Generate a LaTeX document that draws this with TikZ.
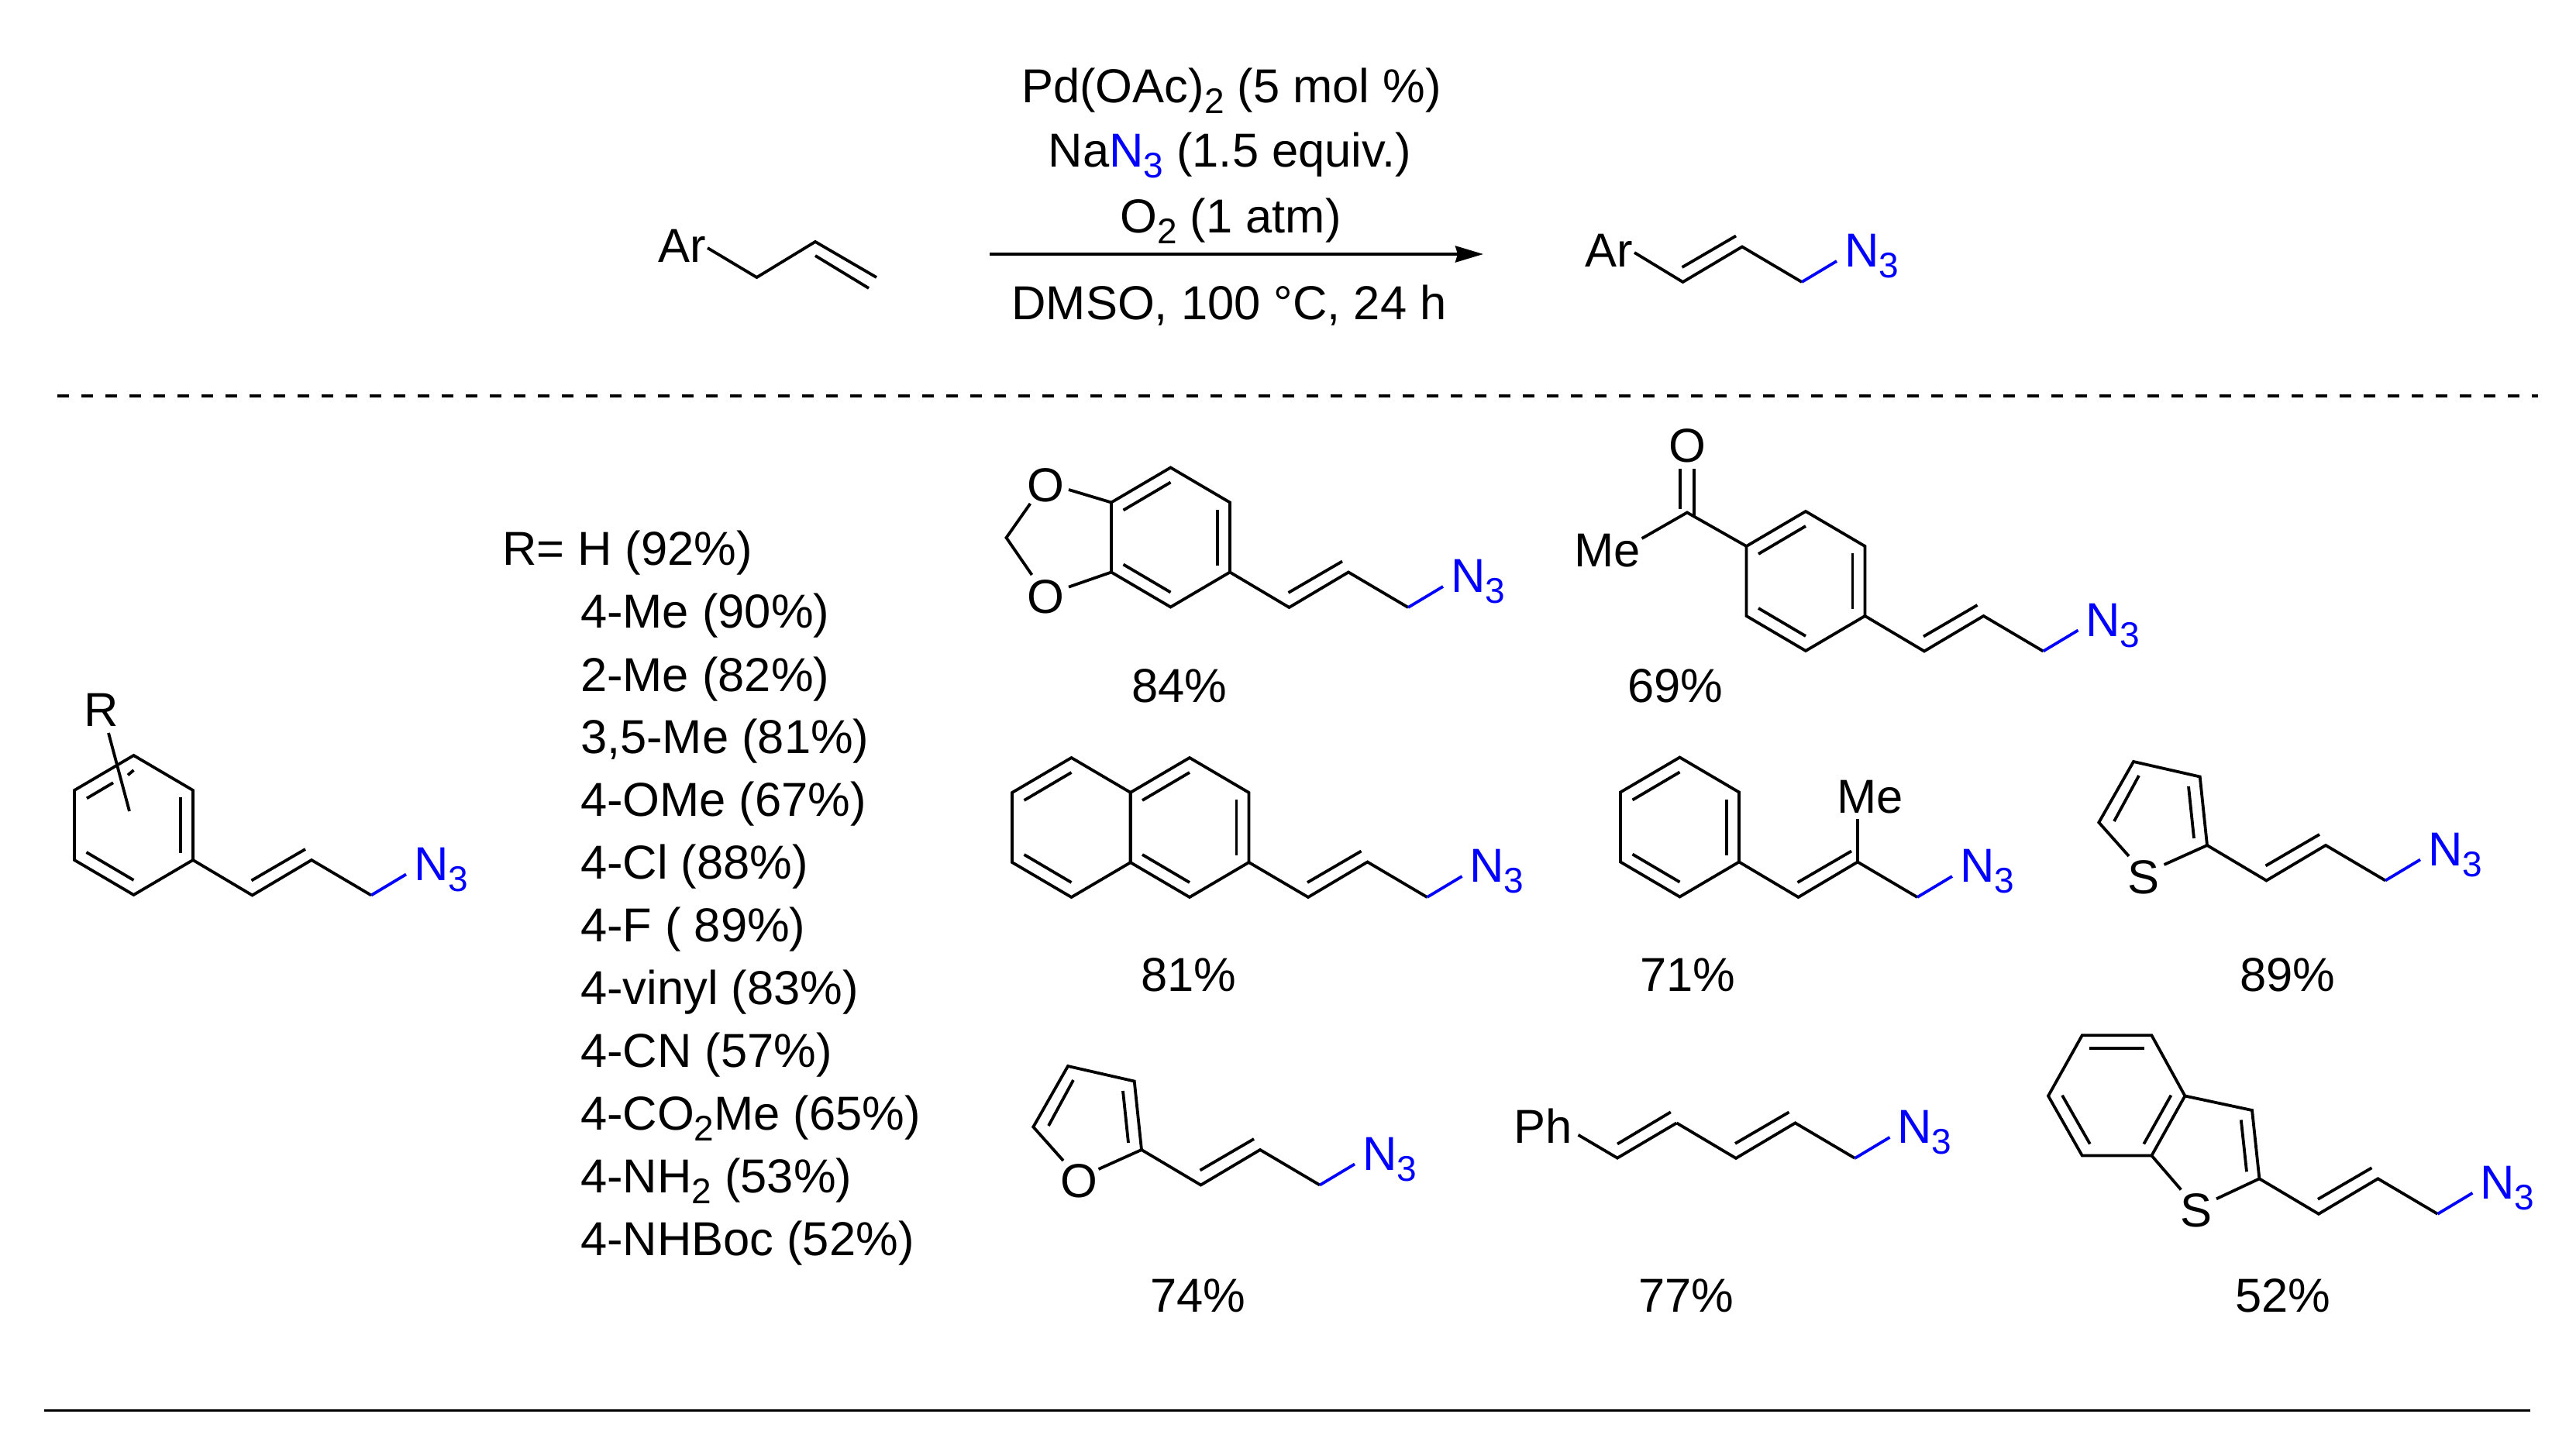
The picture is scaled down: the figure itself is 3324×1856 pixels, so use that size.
\documentclass[tikz,border=0pt]{standalone}
\usepackage{fontspec}
\setmainfont{Liberation Sans}
\usetikzlibrary{arrows.meta}
\definecolor{azide}{RGB}{0,0,255}
\newcommand\subs[1]{\raisebox{-7pt}{\fontsize{23}{23}\selectfont #1}}
\tikzset{
  bond/.style={line width=1.9pt,line join=miter,line cap=butt,black},
  azbond/.style={line width=1.9pt,line cap=butt,azide},
  lab/.style={anchor=base west,inner sep=0pt,outer sep=0pt,yshift=-0.8pt,font=\fontsize{30.75}{30.75}\selectfont},
  clab/.style={lab,anchor=base},
  rule/.style={line width=1.8pt,black},
}
% allyl azide chain: #1 prefix, (#2,#3) attachment vertex, #4 start coordinate of the first bond
\newcommand\allylchain[4]{%
  \coordinate (#1b) at (#2+76.5,#3+45.5);
  \coordinate (#1c) at (#2+153,#3);
  \coordinate (#1d) at (#2+230,#3+45.5);
  \coordinate (#1e) at (#2+275,#3+18.5);
  \coordinate (#1i) at (#2+75.5,#3+26.5);
  \coordinate (#1j) at (#2+145,#3-14);
  \draw[bond] (#4) -- (#1b) -- (#1c) -- (#1d);
  \draw[bond] (#1i) -- (#1j);
  \draw[azbond] (#1d) -- (#1e);
  \node[lab,text=azide] (#1n) at (#2+285,#3+24.5) {N\subs{3}};
}
% benzene hexagon: #1 prefix, centre (#2,#3)
\newcommand\hexring[3]{%
  \coordinate (#1t) at (#2,#3-90);
  \coordinate (#1ur) at (#2+76.5,#3-45);
  \coordinate (#1lr) at (#2+76.5,#3+45);
  \coordinate (#1bt) at (#2,#3+90);
  \coordinate (#1ll) at (#2-76.5,#3+45);
  \coordinate (#1ul) at (#2-76.5,#3-45);
  \draw[bond] (#1t) -- (#1ur) -- (#1lr) -- (#1bt) -- (#1ll) -- (#1ul) -- cycle;
}
\newcommand\inR[3]{\coordinate (#1ra) at (#2+60.5,#3-36); \coordinate (#1rb) at (#2+60.5,#3+36); \draw[bond] (#1ra) -- (#1rb);}
\newcommand\inUL[3]{\coordinate (#1ua) at (#2-61,#3-35); \coordinate (#1ub) at (#2,#3-71); \draw[bond] (#1ua) -- (#1ub);}
\newcommand\inLL[3]{\coordinate (#1la) at (#2-61,#3+35); \coordinate (#1lb) at (#2,#3+71); \draw[bond] (#1la) -- (#1lb);}
% five-membered ring C2,C3,C4,C5: #1 prefix, (#2,#3)=C2
\newcommand\fivering[3]{%
  \coordinate (#1c2) at (#2,#3);
  \coordinate (#1c3) at (#2-9.3,#3-88.5);
  \coordinate (#1c4) at (#2-95,#3-108);
  \coordinate (#1c5) at (#2-139.7,#3-29.5);
  \coordinate (#1ha) at (#2-24,#3-76);
  \coordinate (#1hb) at (#2-17,#3-9);
  \coordinate (#1ka) at (#2-88,#3-90);
  \coordinate (#1kb) at (#2-120,#3-31);
  \coordinate (#1ga) at (#2-101,#3+14);
  \coordinate (#1gb) at (#2-55.5,#3+25);
  \draw[bond] (#1ga) -- (#1c5) -- (#1c4) -- (#1c3) -- (#1c2) -- (#1gb);
  \draw[bond] (#1ha) -- (#1hb);
  \draw[bond] (#1ka) -- (#1kb);
}
\begin{document}
\begin{tikzpicture}[x=0.5pt,y=-0.5pt]
\useasboundingbox (0,0) rectangle (3324,1856);
% --- reaction line
\node[lab] (ar1) at (849,337) {Ar};
\coordinate (ar1s) at (913,320);
\coordinate (r1) at (976.5,358);
\coordinate (r2) at (1052,312);
\coordinate (r3) at (1131,358);
\coordinate (r4) at (1052,330);
\coordinate (r5) at (1121,372);
\draw[bond] (ar1s) -- (r1) -- (r2) -- (r3);
\draw[bond] (r4) -- (r5);
\coordinate (arrA) at (1277,328);
\coordinate (arrB) at (1914,328);
\draw[line width=2pt,-{Stealth[length=18pt,width=10.5pt,inset=1.5pt]}] (arrA) -- (arrB);
\node[clab] (c1) at (1589,130.5) {Pd(OAc)\subs{2} (5 mol \%)};
\node[clab] (c2) at (1587,214) {Na\textcolor{azide}{N\subs{3}} (1.5 equiv.)};
\node[clab] (c3) at (1588,298.5) {O\subs{2} (1 atm)};
\node[clab] (c4) at (1586,411) {DMSO, 100 °C, 24 h};
\node[lab] (ar2) at (2045,343) {Ar};
\coordinate (ar2s) at (2109,326);
\allylchain{p0}{2095}{318.5}{ar2s}
\coordinate (dA) at (74,511);
\coordinate (dB) at (3275,511);
\draw[line width=1.7pt,dash pattern=on 7.7pt off 7.8pt] (dA) -- (dB);
\coordinate (eA) at (57,1820.5);
\coordinate (eB) at (3265,1820.5);
\draw[rule] (eA) -- (eB);
% --- general product
\hexring{g}{172.5}{1065}
\inR{g}{172.5}{1065}
\inLL{g}{172.5}{1065}
\coordinate (gua) at (112,1030.4);
\coordinate (gub) at (146,1010.3);
\coordinate (gx1) at (165,1000.4);
\coordinate (gx2) at (172.5,994);
\draw[bond] (gua) -- (gub);
\draw[bond] (gx1) -- (gx2);
\node[lab] (Rg) at (108,935.5) {R};
\coordinate (Rs) at (140,946);
\coordinate (Re) at (167,1047);
\draw[bond] (Rs) -- (Re);
\allylchain{p1}{249}{1110}{glr}
% --- substituent list
\node[lab] (l0) at (648,727.5) {R= H (92\%)};
\node[lab] (l1) at (749,809) {4-Me (90\%)};
\node[lab] (l2) at (749,890.5) {2-Me (82\%)};
\node[lab] (l3) at (749,971) {3,5-Me (81\%)};
\node[lab] (l4) at (749,1052) {4-OMe (67\%)};
\node[lab] (l5) at (749,1133) {4-Cl (88\%)};
\node[lab] (l6) at (749,1214) {4-F ( 89\%)};
\node[lab] (l7) at (749,1295) {4-vinyl (83\%)};
\node[lab] (l8) at (749,1376) {4-CN (57\%)};
\node[lab] (l9) at (749,1457) {4-CO\subs{2}Me (65\%)};
\node[lab] (l10) at (749,1538) {4-NH\subs{2} (53\%)};
\node[lab] (l11) at (749,1618.5) {4-NHBoc (52\%)};
% --- benzodioxole
\hexring{d}{1510.5}{693.5}
\inR{d}{1510.5}{693.5}
\inUL{d}{1510.5}{693.5}
\inLL{d}{1510.5}{693.5}
\allylchain{p2}{1587}{738.5}{dlr}
\node[clab] (o1) at (1349,646) {O};
\node[clab] (o2) at (1349,790) {O};
\coordinate (ch2) at (1298.5,694);
\coordinate (o1a) at (1329.4,650);
\coordinate (o2a) at (1331.5,742);
\coordinate (o1b) at (1379,632);
\coordinate (o2b) at (1379,757.6);
\draw[bond] (o1a) -- (ch2) -- (o2a);
\draw[bond] (o1b) -- (dul);
\draw[bond] (o2b) -- (dll);
\node[clab] (y1) at (1522,904.7) {84\%};
% --- acetophenone
\hexring{a}{2330}{750}
\inR{a}{2330}{750}
\inUL{a}{2330}{750}
\inLL{a}{2330}{750}
\allylchain{p3}{2406.5}{795}{alr}
\coordinate (co) at (2177,661.5);
\coordinate (meb) at (2118.6,695);
\draw[bond] (meb) -- (co) -- (aul);
\coordinate (coa) at (2168,605);
\coordinate (cob) at (2168,657);
\coordinate (coc) at (2186,605);
\coordinate (cod) at (2186,667);
\draw[bond] (coa) -- (cob);
\draw[bond] (coc) -- (cod);
\node[clab] (o3) at (2177,595) {O};
\node[lab] (me1) at (2031,729.5) {Me};
\node[clab] (y2) at (2162,904.7) {69\%};
% --- naphthalene
\hexring{n}{1382.5}{1068}
\inUL{n}{1382.5}{1068}
\inLL{n}{1382.5}{1068}
\hexring{m}{1535}{1068}
\inR{m}{1535}{1068}
\inUL{m}{1535}{1068}
\inLL{m}{1535}{1068}
\allylchain{p4}{1611.5}{1112.5}{mlr}
\node[clab] (y3) at (1534,1278) {81\%};
% --- methyl styrene
\hexring{s}{2167.5}{1067.5}
\inR{s}{2167.5}{1067.5}
\inUL{s}{2167.5}{1067.5}
\inLL{s}{2167.5}{1067.5}
\allylchain{p5}{2244}{1112.5}{slr}
\coordinate (mee) at (2397,1057);
\draw[bond] (p5c) -- (mee);
\node[lab] (me2) at (2370,1048) {Me};
\node[clab] (y4) at (2178,1278) {71\%};
% --- thiophene
\fivering{t}{2848}{1091}
\allylchain{p6}{2848}{1091}{tc2}
\node[clab] (s1) at (2766,1152) {S};
\node[clab] (y5) at (2952,1278) {89\%};
% --- furan
\fivering{f}{1473}{1484}
\allylchain{p7}{1473}{1484}{fc2}
\node[clab] (o4) at (1392,1544) {O};
\node[clab] (y6) at (1546,1692) {74\%};
% --- phenyl diene
\node[lab] (ph) at (1953,1474) {Ph};
\coordinate (phs) at (2036.5,1464.8);
\coordinate (ph1) at (2087,1494.6);
\coordinate (ph2) at (2163.5,1449.4);
\coordinate (ph3) at (2087,1476.5);
\coordinate (ph4) at (2155.8,1435.3);
\draw[bond] (phs) -- (ph1) -- (ph2);
\draw[bond] (ph3) -- (ph4);
\allylchain{p8}{2163.5}{1449.4}{ph2}
\node[clab] (y7) at (2176,1692) {77\%};
% --- benzothiophene
\coordinate (b1) at (2686.7,1336.3);
\coordinate (b2) at (2776.4,1336.3);
\coordinate (b3) at (2819.4,1414.5);
\coordinate (b4) at (2776.4,1491.5);
\coordinate (b5) at (2686.7,1491.5);
\coordinate (b6) at (2643,1414.5);
\draw[bond] (b1) -- (b2) -- (b3) -- (b4) -- (b5) -- (b6) -- cycle;
\coordinate (bi1) at (2696,1353);
\coordinate (bi2) at (2767,1353);
\coordinate (bi3) at (2661,1413.7);
\coordinate (bi4) at (2696.8,1476.5);
\coordinate (bi5) at (2801.4,1413.7);
\coordinate (bi6) at (2766.3,1476.5);
\draw[bond] (bi1) -- (bi2);
\draw[bond] (bi3) -- (bi4);
\draw[bond] (bi5) -- (bi6);
\coordinate (b7) at (2906,1433);
\coordinate (b8) at (2915.4,1521.3);
\coordinate (bs1) at (2814.3,1535.5);
\coordinate (bs2) at (2860,1547.3);
\coordinate (bi7) at (2891.8,1445.5);
\coordinate (bi8) at (2899,1512.3);
\draw[bond] (bs1) -- (b4);
\draw[bond] (b3) -- (b7) -- (b8) -- (bs2);
\draw[bond] (bi7) -- (bi8);
\allylchain{p9}{2915.4}{1521.3}{b8}
\node[clab] (s2) at (2834.4,1582) {S};
\node[clab] (y8) at (2946,1692) {52\%};
\end{tikzpicture}
\end{document}
